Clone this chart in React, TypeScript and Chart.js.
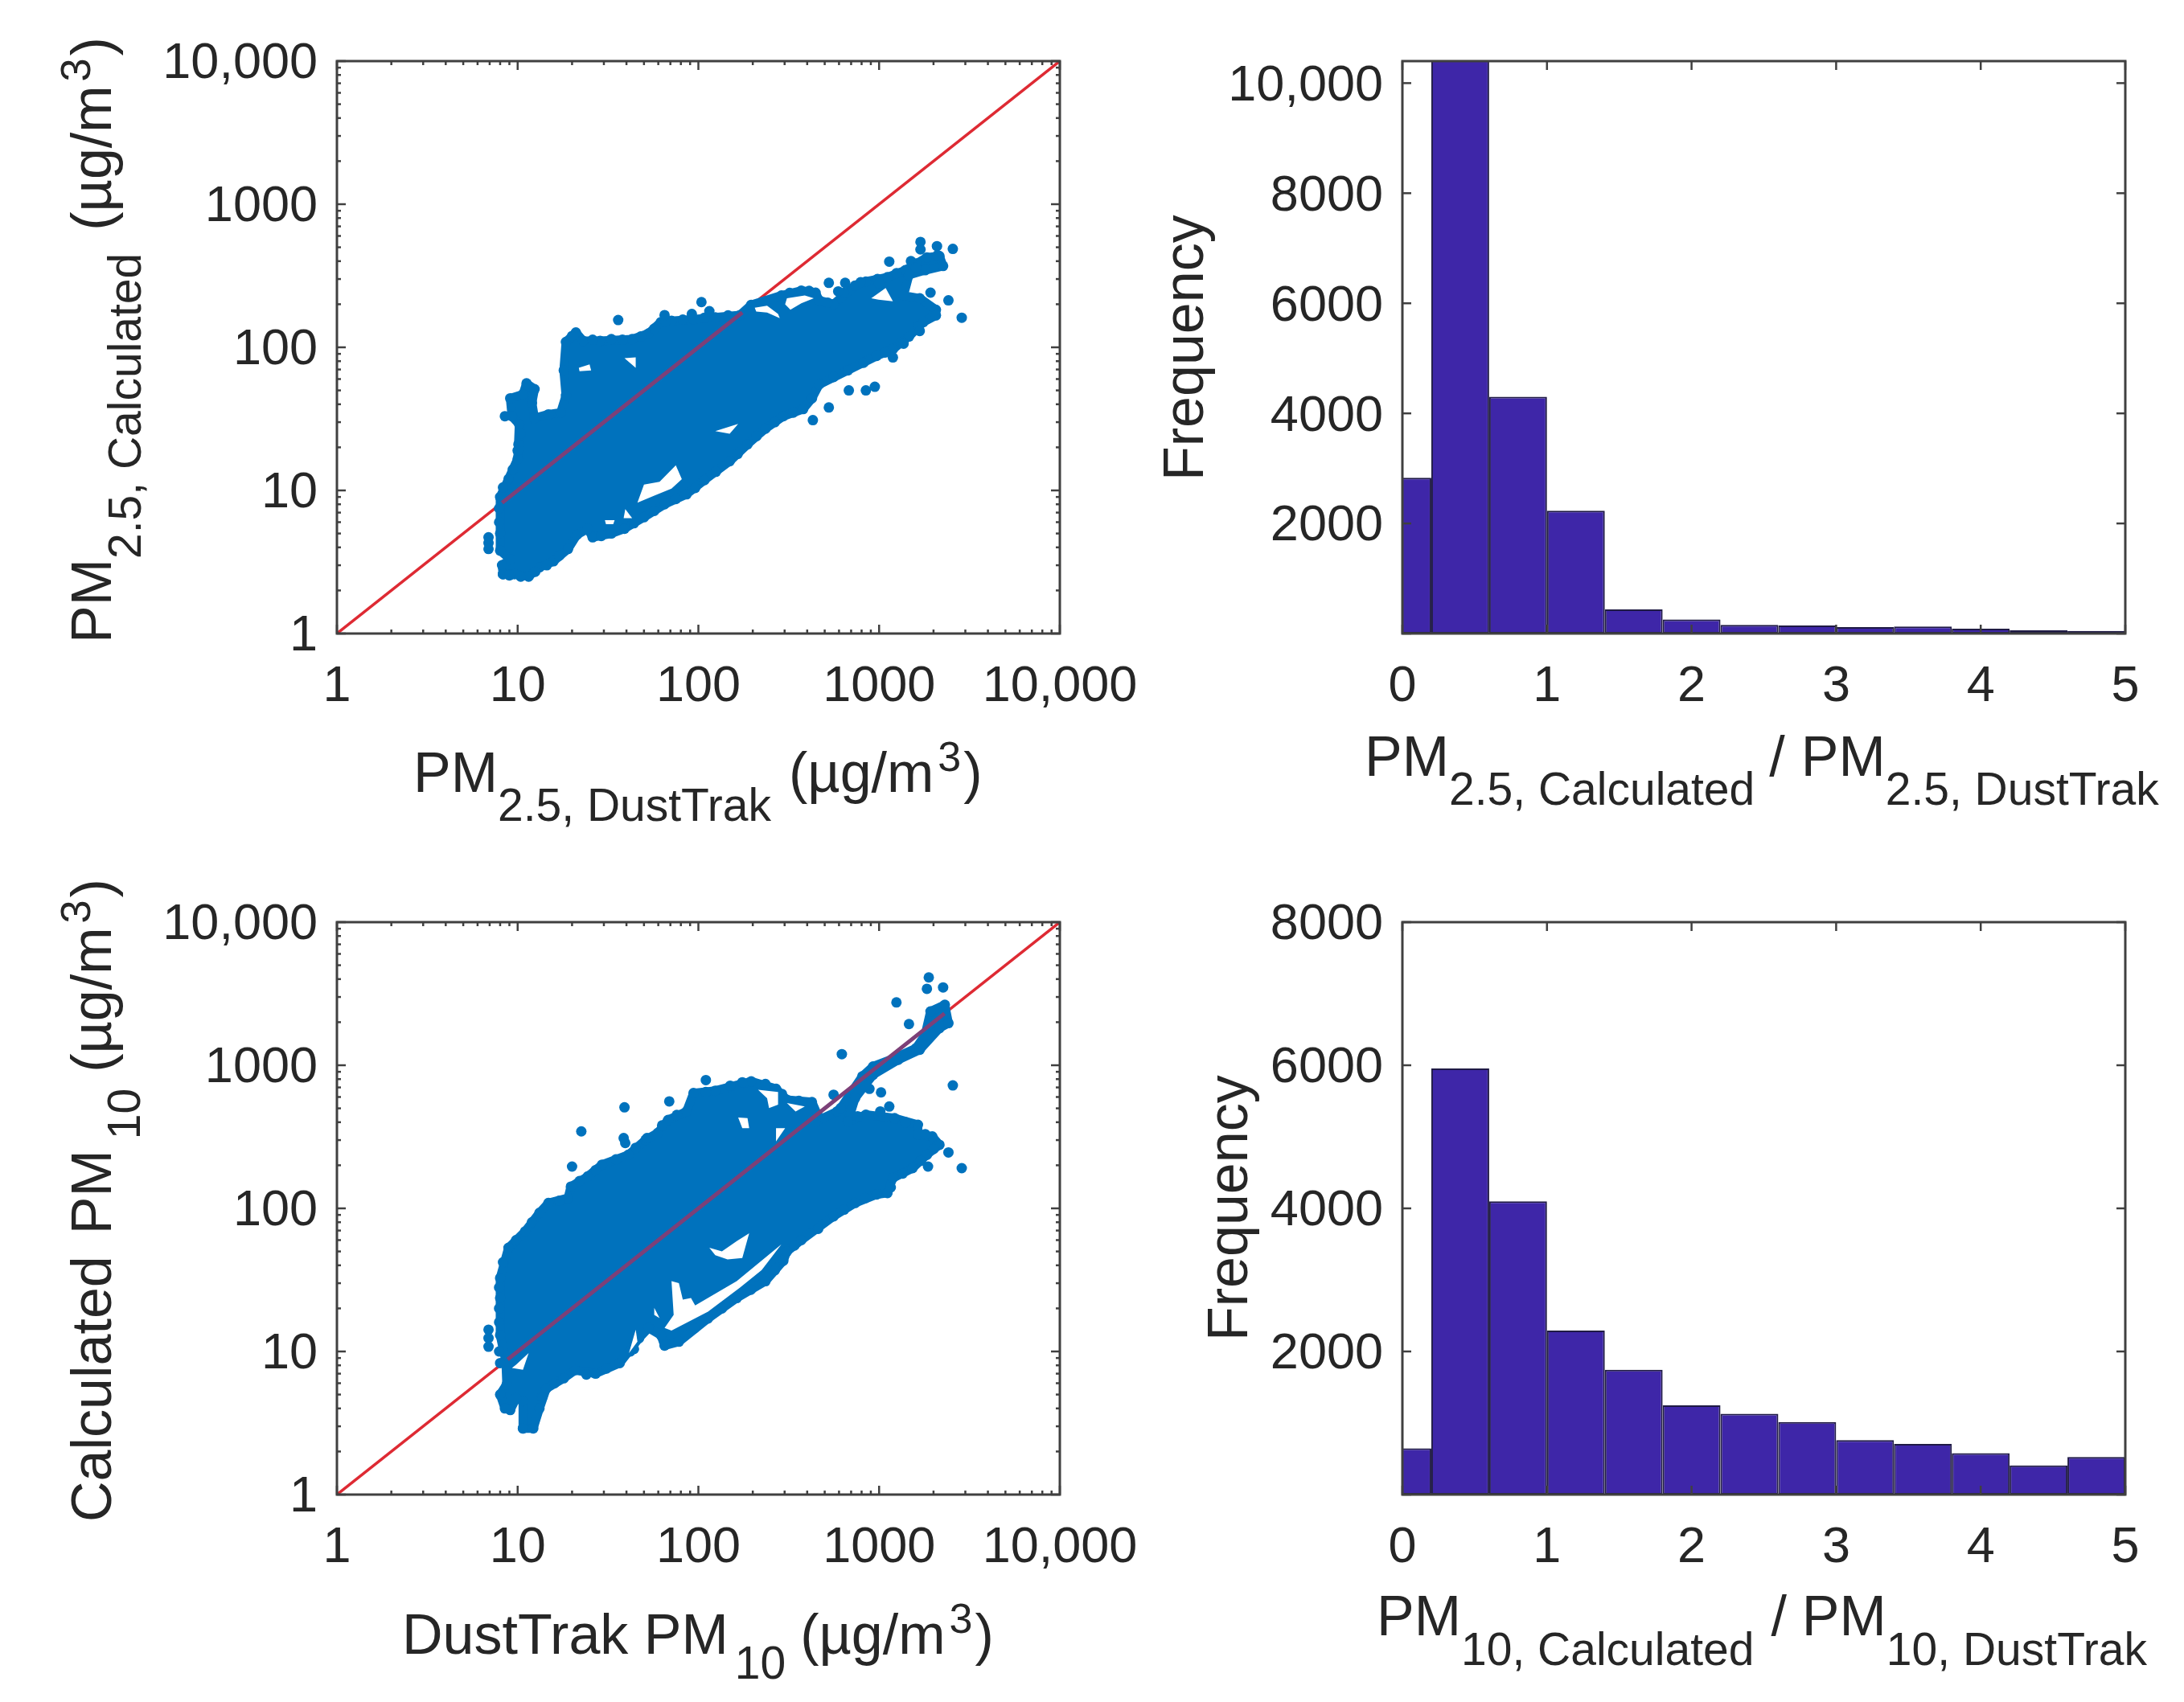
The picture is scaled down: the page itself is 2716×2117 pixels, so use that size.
import { useEffect, useRef } from 'react'
import { Chart, registerables } from 'chart.js'

Chart.register(...registerables)

type Pair = [number, number]
type Part = { text: string; size?: number; shift?: number; gap?: number }
type AxisTitle = { x: number; y: number; vertical?: boolean; parts: Part[] }
type Box = { left: number; top: number; width: number; height: number }
type Plot = { left: number; top: number; right: number; bottom: number }

// ---- tick values and labels ----
const logTicks = [1, 10, 100, 1000, 10000]
const logTickLabels = ['1', '10', '100', '1000', '10,000']
const logMinorTicks = [
  2, 3, 4, 5, 6, 7, 8, 9, 20, 30, 40, 50, 60, 70, 80, 90, 200, 300, 400, 500, 600, 700, 800, 900,
  2000, 3000, 4000, 5000, 6000, 7000, 8000, 9000,
]
const ratioTicks = [0, 1, 2, 3, 4, 5]
const ratioTickLabels = ['0', '1', '2', '3', '4', '5']
const freqTicksTop = [0, 2000, 4000, 6000, 8000, 10000]
const freqLabelsTop = ['', '2000', '4000', '6000', '8000', '10,000']
const freqTicksBottom = [0, 2000, 4000, 6000, 8000]
const freqLabelsBottom = ['', '2000', '4000', '6000', '8000']

// ---- histograms (bin centres, first and last bins run into the axis limits) ----
const binCentres = [0, 0.4, 0.8, 1.2, 1.6, 2.0, 2.4, 2.8, 3.2, 3.6, 4.0, 4.4, 4.8]
const pm25Counts = [2830, 10700, 4300, 2230, 440, 254, 156, 146, 117, 127, 88, 58, 49]
const pm10Counts = [647, 5955, 4098, 2293, 1744, 1248, 1128, 1015, 760, 707, 579, 406, 526]

// ---- PM2.5 scatter: the dense cloud's edge, its gaps and the stray points ----
const pm25Cloud: Pair[] = [
  [8.3, 2.6], [8.2, 3], [9.1, 3.3], [8, 3.8], [8, 5], [8, 9], [8.9, 12], [10, 16.6], [10.1, 21], [10.2, 29],
  [9.3, 33], [9.1, 44], [10.7, 47], [11.2, 56], [12.4, 51], [12, 41], [12.4, 32], [14.8, 34], [17.3, 35],
  [18.5, 46], [18, 69], [18.5, 109], [21, 127], [23, 111], [28.6, 111], [43, 114], [53, 125], [62, 150],
  [71, 153], [94, 157], [124, 162], [170, 168], [196, 198], [288, 230], [371, 249], [445, 241], [466, 213],
  [560, 200], [737, 270], [845, 288], [1112, 309], [1398, 346], [1839, 425], [2158, 434], [2260, 370],
  [1798, 346], [1463, 320], [1366, 230], [1678, 220], [2061, 183], [2061, 167], [1757, 150], [1463, 119],
  [1192, 97], [969, 87], [672, 69], [466, 55], [425, 44], [380, 37], [295, 33], [235, 27], [187, 21],
  [149, 16], [108, 11.8], [86, 9.4], [65, 8], [50, 6.5], [39, 5.4], [33, 5], [26, 4.7], [24.4, 5.4],
  [21.3, 4.9], [19, 3.9], [15.8, 3.2], [13.2, 2.9], [11.5, 2.5], [9.6, 2.6], [8.3, 2.6],
]
const pm25Stray: Pair[] = [
  [6.9, 4.7], [6.9, 4.3], [6.9, 3.9], [8.5, 33], [36, 155], [65, 168], [104, 207], [92, 171], [115, 179],
  [527, 282], [649, 282], [594, 246], [1138, 397], [1694, 545], [1694, 483], [2090, 509], [2105, 440],
  [2558, 487], [1925, 241], [2419, 213], [2866, 161], [1678, 130], [1366, 106], [1192, 85], [680, 50],
  [845, 50], [947, 53], [527, 38], [430, 31],
]
const pm25EdgeDots: Pair[] = [
  [7.9, 6], [7.9, 7.5], [8.3, 10.5], [9.4, 14], [10, 19], [10.4, 25], [20, 120], [26, 113], [33, 114], [38, 113],
  [48, 119], [57, 135], [66, 152], [82, 156], [108, 161], [146, 167], [320, 240], [410, 248], [520, 205], [640, 240],
  [790, 285], [980, 300], [1250, 330], [1600, 385], [1000, 280], [1500, 400], [1600, 360], [1650, 140], [1320, 108],
  [1080, 92], [820, 78], [560, 62], [335, 35], [265, 30], [210, 24], [165, 18], [125, 13.5], [96, 10.4], [75, 8.7],
  [57, 7.2], [44, 5.9], [29, 4.8], [17, 3.5], [14.5, 3], [12.5, 2.7], [10.4, 2.5], [9, 2.55],
]
const pm25Gaps: Pair[][] = [
  [[205, 189], [240, 195], [276, 171], [282, 160], [240, 175], [209, 178]],
  [[309, 220], [388, 230], [435, 220], [371, 203], [323, 183], [302, 200]],
  [[905, 220], [1087, 260], [1192, 210], [992, 215]],
  [[21.8, 72], [25, 76], [25.5, 69], [22, 68]],
  [[39, 84], [45, 85], [45, 72]],
  [[46, 8.2], [50, 11], [61, 11.5], [75, 15], [81, 12], [71, 10.3], [57, 9.2]],
  [[30.4, 6.2], [34.4, 6.2], [33.8, 5.8], [30.8, 5.8]],
  [[39.4, 7.4], [43, 6.4], [38.6, 6.4]],
  [[124, 26], [166, 29.2], [149, 24.9]],
]
const pm25LineOverCloud: Pair[] = [[8.2, 8.2], [175, 175]]

// ---- PM10 scatter ----
const pm10Cloud: Pair[] = [
  [10.7, 2.9], [10.7, 4.5], [9.8, 4.7], [9.1, 3.9], [8.5, 4], [8, 5], [8.7, 5.9], [8.6, 8.5], [8, 13],
  [8, 23.6], [8, 32.6], [8.9, 53], [11, 69], [13.2, 93], [14.8, 109], [19, 118], [19.7, 142], [24.4, 167],
  [29.3, 202], [41, 237], [51, 301], [59.5, 336], [68, 415], [86, 476], [94, 639], [124, 664], [196, 771],
  [269, 684], [309, 574], [425, 553], [456, 451], [445, 405], [586, 476], [613, 502], [807, 836], [926, 981],
  [1218, 1122], [1603, 1318], [1798, 1633], [1925, 2377], [2311, 2646], [2419, 1970], [2158, 1818],
  [1678, 1283], [1275, 1092], [926, 858], [737, 590], [672, 405], [845, 451], [1218, 427], [1640, 384],
  [1640, 327], [1970, 318], [2158, 278], [1839, 237], [1532, 191], [1192, 163], [1112, 128], [969, 125],
  [737, 109], [560, 88], [371, 60], [309, 50], [295, 43], [235, 31], [163, 23.6], [113, 17], [78, 11.7],
  [65, 11], [62, 13], [53, 14.6], [47, 12.4], [36.7, 8.3], [27, 7], [20.8, 7.4], [18, 6.5], [14.4, 5.5],
  [13.2, 4], [12.2, 2.9], [10.7, 2.9],
]
const pm10Stray: Pair[] = [
  [6.9, 14.2], [6.9, 12.4], [6.9, 10.8], [8, 8.3], [44, 10.4], [20, 196], [22.5, 345], [39, 508], [38.6, 310],
  [39.4, 286], [52, 310], [69, 559], [110, 788], [622, 1196], [560, 622], [884, 684], [1025, 646], [1138, 515],
  [1015, 476], [1247, 2748], [1463, 1941], [1883, 4110], [1839, 3420], [2260, 3500], [2558, 723], [2419, 246],
  [2866, 191], [1865, 196],
]
const pm10EdgeDots: Pair[] = [
  [7.9, 10], [7.9, 16], [7.9, 20], [7.9, 28], [8.3, 42], [9.8, 60], [12, 80], [17, 113], [22, 155], [27, 185],
  [35, 220], [45, 265], [63, 380], [76, 450], [110, 650], [150, 720], [175, 760], [235, 740], [290, 630], [360, 565],
  [760, 440], [1000, 445], [1400, 400], [1800, 330], [2000, 260], [1700, 215], [1350, 175], [1160, 140], [840, 118],
  [640, 98], [460, 72], [340, 55], [265, 37], [195, 27], [135, 20], [95, 14.5], [42, 10], [31, 7.6], [24, 6.9],
  [16, 6], [13.7, 4.8],
]
const pm10Gaps: Pair[][] = [
  [[115, 53], [135, 50], [163, 59], [191, 67], [175, 45], [145, 44], [124, 47]],
  [[65, 14.6], [73, 18], [71, 31], [78, 30], [82, 23], [91, 23.6], [96, 21], [163, 31], [288, 56], [224, 37],
    [170, 28], [113, 19], [71, 14]],
  [[269, 363], [302, 363], [269, 294]],
  [[166, 432], [187, 427], [191, 363], [175, 363]],
  [[214, 674], [276, 651], [276, 530], [246, 502], [240, 589]],
  [[309, 544], [388, 515], [345, 476]],
  [[9.8, 8.08], [11.5, 9.73], [10.7, 7.45], [9.3, 7.66]],
  [[41.3, 9.73], [45, 14.2], [46, 11.7]],
  [[57, 20.2], [61, 17.1], [57, 18]],
]
const pm10LineOverCloud: Pair[] = [[8.8, 8.8], [440, 440], [820, 820], [2300, 2300]]

const identityLine: Pair[] = [[1, 1], [10000, 10000]]

// ---- colours, fonts ----
const CLOUD = '#0072BD'
const LINE_RED = '#DE2A33'
const LINE_OVER = '#7C4078'
const BAR_FILL = '#3E26A8'
const BAR_EDGE = '#1F1A45'
const FRAME = '#404040'
const INK = '#262626'
const FONT = '"Liberation Sans", Arial, sans-serif'
const TICK_SIZE = 63
const TITLE_SIZE = 70
const SUB_SIZE = 57
const SUP_SIZE = 52

const toPoints = (pairs: Pair[]) => pairs.map(([x, y]) => ({ x, y }))
const labelFrom = (values: number[], labels: string[]) => (v: number | string) => {
  const i = values.indexOf(Number(v))
  return i >= 0 ? labels[i] : ''
}

function drawTitle(ctx: CanvasRenderingContext2D, title: AxisTitle) {
  ctx.save()
  ctx.translate(title.x, title.y)
  if (title.vertical) ctx.rotate(-Math.PI / 2)
  ctx.fillStyle = INK
  ctx.textAlign = 'left'
  ctx.textBaseline = 'alphabetic'
  let cursor = 0
  for (const part of title.parts) {
    ctx.font = `${part.size ?? TITLE_SIZE}px ${FONT}`
    ctx.fillText(part.text, cursor, part.shift ?? 0)
    cursor += ctx.measureText(part.text).width + (part.gap ?? 0)
  }
  ctx.restore()
}

// box, inward ticks on all four sides, and the subscripted axis titles
function framePlugin(box: Box, titles: AxisTitle[], minorX: number[], minorY: number[]) {
  return {
    id: 'frame',
    afterDraw(chart: Chart) {
      const { ctx, chartArea: a, scales } = chart
      ctx.save()
      ctx.strokeStyle = FRAME
      ctx.lineWidth = 3
      ctx.strokeRect(a.left, a.top, a.right - a.left, a.bottom - a.top)
      ctx.lineWidth = 2.5
      const mark = (x1: number, y1: number, x2: number, y2: number) => {
        ctx.beginPath()
        ctx.moveTo(x1, y1)
        ctx.lineTo(x2, y2)
        ctx.stroke()
      }
      const xTick = (v: number, len: number) => {
        const px = scales.x.getPixelForValue(v)
        mark(px, a.bottom, px, a.bottom - len)
        mark(px, a.top, px, a.top + len)
      }
      const yTick = (v: number, len: number) => {
        const py = scales.y.getPixelForValue(v)
        mark(a.left, py, a.left + len, py)
        mark(a.right, py, a.right - len, py)
      }
      scales.x.ticks.forEach(t => xTick(t.value, 11))
      scales.y.ticks.forEach(t => yTick(t.value, 11))
      minorX.forEach(v => xTick(v, 5))
      minorY.forEach(v => yTick(v, 5))
      ctx.restore()

      ctx.save()
      ctx.translate(-box.left, -box.top)
      titles.forEach(t => drawTitle(ctx, t))
      ctx.restore()
    },
  }
}

function axisOptions(box: Box, plot: Plot, values: number[], labels: string[], side: 'x' | 'y') {
  return {
    afterBuildTicks: (scale: any) => {
      scale.ticks = values.map(value => ({ value }))
    },
    afterFit: (scale: any) => {
      if (side === 'x') scale.height = box.top + box.height - plot.bottom
      else scale.width = plot.left - box.left
    },
    grid: { display: false },
    border: { display: false },
    ticks: {
      autoSkip: false,
      maxRotation: 0,
      minRotation: 0,
      padding: side === 'x' ? 21 : 16,
      labelOffset: side === 'y' ? 4 : 0,
      color: INK,
      font: { family: FONT, size: TICK_SIZE },
      callback: labelFrom(values, labels),
    },
  }
}

const layoutFor = (box: Box, plot: Plot) => ({
  padding: {
    left: 0,
    bottom: 0,
    top: plot.top - box.top,
    right: box.left + box.width - plot.right,
  },
})

function scatterConfig(box: Box, plot: Plot, cloud: Pair[], stray: Pair[], edgeDots: Pair[], gaps: Pair[][], over: Pair[], titles: AxisTitle[]) {
  const lineBase = { showLine: true, pointRadius: 0, tension: 0 }
  const dots = { pointRadius: 6.5, pointBorderWidth: 0, pointBackgroundColor: CLOUD }
  return {
    type: 'scatter',
    data: {
      // first dataset ends up on top
      datasets: [
        { ...lineBase, data: toPoints(over), borderColor: LINE_OVER, borderWidth: 5 },
        ...gaps.map(gap => ({
          ...lineBase,
          data: toPoints(gap),
          fill: 'shape',
          backgroundColor: '#FFFFFF',
          borderWidth: 0,
        })),
        { data: toPoints(stray), ...dots },
        { data: toPoints(edgeDots), ...dots },
        {
          ...lineBase,
          ...dots,
          data: toPoints(cloud),
          fill: 'shape',
          backgroundColor: CLOUD,
          borderColor: CLOUD,
          borderWidth: 11,
          borderJoinStyle: 'round',
        },
        { ...lineBase, data: toPoints(identityLine), borderColor: LINE_RED, borderWidth: 3.5 },
      ],
    },
    options: {
      animation: false,
      responsive: false,
      devicePixelRatio: 1,
      layout: layoutFor(box, plot),
      plugins: { legend: { display: false }, tooltip: { enabled: false } },
      scales: {
        x: { type: 'logarithmic', min: 1, max: 10000, ...axisOptions(box, plot, logTicks, logTickLabels, 'x') },
        y: { type: 'logarithmic', min: 1, max: 10000, ...axisOptions(box, plot, logTicks, logTickLabels, 'y') },
      },
    },
    plugins: [framePlugin(box, titles, logMinorTicks, logMinorTicks)],
  }
}

function histogramConfig(box: Box, plot: Plot, counts: number[], yMax: number, yTicks: number[], yLabels: string[], titles: AxisTitle[]) {
  return {
    type: 'bar',
    data: {
      datasets: [
        {
          data: binCentres.map((x, i) => ({ x, y: counts[i] })),
          backgroundColor: BAR_FILL,
          borderColor: BAR_EDGE,
          borderWidth: 2,
          borderSkipped: false,
          inflateAmount: 0,
          categoryPercentage: 1,
          barPercentage: 1,
        },
      ],
    },
    options: {
      animation: false,
      responsive: false,
      devicePixelRatio: 1,
      layout: layoutFor(box, plot),
      plugins: { legend: { display: false }, tooltip: { enabled: false } },
      scales: {
        x: { type: 'linear', offset: false, min: 0, max: 5, ...axisOptions(box, plot, ratioTicks, ratioTickLabels, 'x') },
        y: { type: 'linear', min: 0, max: yMax, ...axisOptions(box, plot, yTicks, yLabels, 'y') },
      },
    },
    plugins: [framePlugin(box, titles, [], [])],
  }
}

function Panel({ box, config }: { box: Box; config: any }) {
  const canvasRef = useRef<HTMLCanvasElement>(null)

  useEffect(() => {
    if (!canvasRef.current) return
    const chart = new Chart(canvasRef.current, config)
    return () => chart.destroy()
  }, [config])

  return (
    <canvas
      ref={canvasRef}
      width={box.width}
      height={box.height}
      style={{ position: 'absolute', left: box.left, top: box.top, width: box.width, height: box.height }}
    />
  )
}

// left panels overlap the right ones a little: the last x label needs the room, canvases are transparent
const LEFT_WIDTH = 1500
const RIGHT_LEFT = 1425
const SPLIT_Y = 1080
const boxA: Box = { left: 0, top: 0, width: LEFT_WIDTH, height: SPLIT_Y }
const boxB: Box = { left: RIGHT_LEFT, top: 0, width: 2716 - RIGHT_LEFT, height: SPLIT_Y }
const boxC: Box = { left: 0, top: SPLIT_Y, width: LEFT_WIDTH, height: 2117 - SPLIT_Y }
const boxD: Box = { left: RIGHT_LEFT, top: SPLIT_Y, width: 2716 - RIGHT_LEFT, height: 2117 - SPLIT_Y }
const plotA: Plot = { left: 419, top: 76, right: 1318, bottom: 788 }
const plotB: Plot = { left: 1744, top: 76, right: 2643, bottom: 788 }
const plotC: Plot = { left: 419, top: 1147, right: 1318, bottom: 1859 }
const plotD: Plot = { left: 1744, top: 1147, right: 2643, bottom: 1859 }

const sub = (text: string, shift: number, gap = 0): Part => ({ text, size: SUB_SIZE, shift, gap })
const sup3: Part = { text: '3', size: SUP_SIZE, shift: -26, gap: 3 }

const titlesA: AxisTitle[] = [
  { x: 514, y: 985, parts: [{ text: 'PM' }, sub('2.5, DustTrak', 36, 22), { text: '(µg/m', gap: 5 }, sup3, { text: ')' }] },
  { x: 138, y: 800, vertical: true, parts: [{ text: 'PM' }, sub('2.5, Calculated', 37, 28), { text: '(µg/m', gap: 5 }, sup3, { text: ')' }] },
]
const titlesB: AxisTitle[] = [
  { x: 1697, y: 965, parts: [{ text: 'PM' }, sub('2.5, Calculated', 36, 18), { text: '/', gap: 20 }, { text: 'PM' }, sub('2.5, DustTrak', 36)] },
  { x: 1496, y: 598, vertical: true, parts: [{ text: 'Frequency' }] },
]
const titlesC: AxisTitle[] = [
  { x: 500, y: 2057, parts: [{ text: 'DustTrak PM', gap: 8 }, sub('10', 31, 18), { text: '(µg/m', gap: 5 }, sup3, { text: ')' }] },
  { x: 138, y: 1893, vertical: true, parts: [{ text: 'Calculated', gap: 27 }, { text: 'PM', gap: 13 }, sub('10', 36, 20), { text: '(µg/m', gap: 5 }, sup3, { text: ')' }] },
]
const titlesD: AxisTitle[] = [
  { x: 1712, y: 2034, parts: [{ text: 'PM' }, sub('10, Calculated', 37, 21), { text: '/', gap: 19 }, { text: 'PM' }, sub('10, DustTrak', 37)] },
  { x: 1551, y: 1668, vertical: true, parts: [{ text: 'Frequency' }] },
]

const configA = scatterConfig(boxA, plotA, pm25Cloud, pm25Stray, pm25EdgeDots, pm25Gaps, pm25LineOverCloud, titlesA)
const configB = histogramConfig(boxB, plotB, pm25Counts, 10400, freqTicksTop, freqLabelsTop, titlesB)
const configC = scatterConfig(boxC, plotC, pm10Cloud, pm10Stray, pm10EdgeDots, pm10Gaps, pm10LineOverCloud, titlesC)
const configD = histogramConfig(boxD, plotD, pm10Counts, 8000, freqTicksBottom, freqLabelsBottom, titlesD)

export default function App() {
  return (
    <div style={{ position: 'absolute', left: 0, top: 0, width: 2716, height: 2117, background: '#fff' }}>
      <Panel box={boxA} config={configA} />
      <Panel box={boxC} config={configC} />
      <Panel box={boxB} config={configB} />
      <Panel box={boxD} config={configD} />
    </div>
  )
}
